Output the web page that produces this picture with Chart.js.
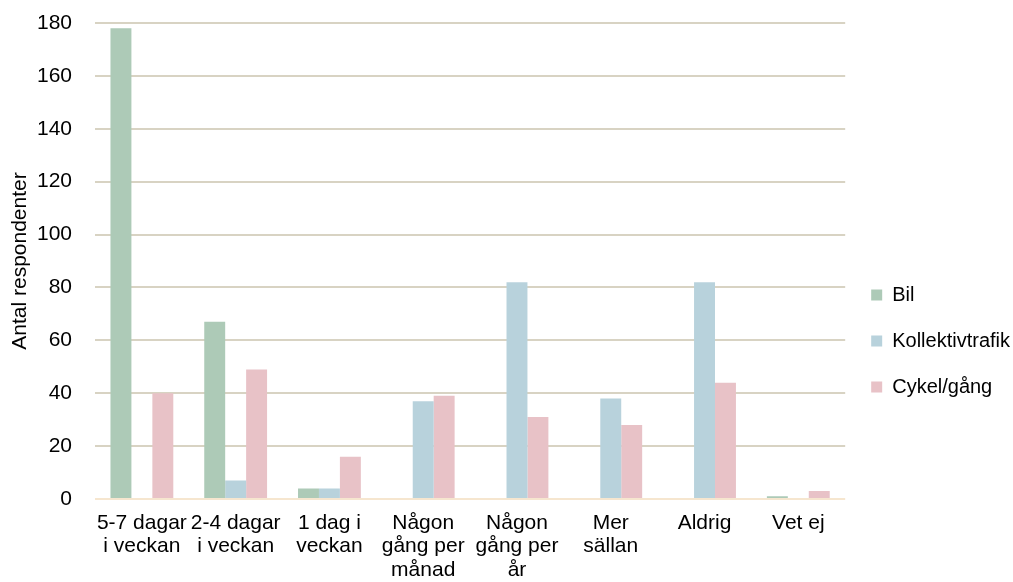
<!DOCTYPE html>
<html>
<head>
<meta charset="utf-8">
<script src="https://cdn.jsdelivr.net/npm/chart.js@4/dist/chart.umd.min.js"></script>
<style>
  html, body { margin: 0; padding: 0; background: #fff; }
  #wrap { width: 1013px; height: 582px; position: relative; }
</style>
</head>
<body>
<div id="wrap"><canvas id="c"></canvas></div>
<script>
// Frequency categories (multi-line axis labels)
const categories = [
  ["5-7 dagar", "i veckan"],
  ["2-4 dagar", "i veckan"],
  ["1 dag i", "veckan"],
  ["Någon", "gång per", "månad"],
  ["Någon", "gång per", "år"],
  ["Mer", "sällan"],
  ["Aldrig"],
  ["Vet ej"]
];

// Number of respondents per mode of travel
const bil = [178, 67, 4, 0, 0, 0, 0, 1];
const kollektivtrafik = [0, 7, 4, 37, 82, 38, 82, 0];
const cykelGang = [40, 49, 16, 39, 31, 28, 44, 3];

const yTicks = [0, 20, 40, 60, 80, 100, 120, 140, 160, 180];

const FONT = "'Liberation Sans', Arial, Helvetica, sans-serif";

new Chart(document.getElementById('c'), {
  type: 'bar',
  data: {
    labels: categories,
    datasets: [
      { label: 'Bil', data: bil, backgroundColor: '#adcab7' },
      { label: 'Kollektivtrafik', data: kollektivtrafik, backgroundColor: '#b8d2dc' },
      { label: 'Cykel/gång', data: cykelGang, backgroundColor: '#e8c2c7' }
    ]
  },
  options: {
    responsive: true,
    maintainAspectRatio: false,
    animation: false,
    layout: { padding: { top: 23, right: -7, left: 8, bottom: 0 } },
    datasets: {
      bar: { categoryPercentage: 0.67, barPercentage: 1.0, borderWidth: 0 }
    },
    plugins: {
      tooltip: { enabled: false },
      legend: {
        position: 'right',
        // blank title used as a spacer to push the legend items down
        title: {
          display: true,
          text: ' ',
          padding: { top: 53, bottom: 0 },
          font: { family: FONT, size: 20 }
        },
        labels: {
          boxWidth: 11,
          boxHeight: 11,
          padding: 26,
          color: '#000',
          font: { family: FONT, size: 20 }
        }
      }
    },
    scales: {
      x: {
        grid: { display: false, drawTicks: false },
        border: { display: false },
        ticks: {
          color: '#000',
          maxRotation: 0,
          autoSkip: false,
          padding: 12,
          font: { family: FONT, size: 21, lineHeight: 1.12 }
        },
        afterFit: (scale) => {
          scale.height = 83;
          scale.paddingLeft = 0;
          scale.paddingRight = 0;
        }
      },
      y: {
        min: 0,
        max: 180,
        afterBuildTicks: (axis) => { axis.ticks = yTicks.map(v => ({ value: v })); },
        afterFit: (scale) => {
          scale.width = 87;
          scale.paddingTop = 0;
          scale.paddingBottom = 0;
        },
        border: { display: false },
        grid: {
          color: (ctx) => ctx.tick && ctx.tick.value === 0 ? '#f6e6cf' : '#d8d3c3',
          lineWidth: 2,
          drawTicks: false
        },
        ticks: {
          color: '#000',
          padding: 23,
          font: { family: FONT, size: 21 }
        },
        title: {
          display: true,
          text: 'Antal respondenter',
          color: '#000',
          padding: { top: 0, bottom: 4 },
          font: { family: FONT, size: 21 }
        }
      }
    }
  }
});
</script>
</body>
</html>
